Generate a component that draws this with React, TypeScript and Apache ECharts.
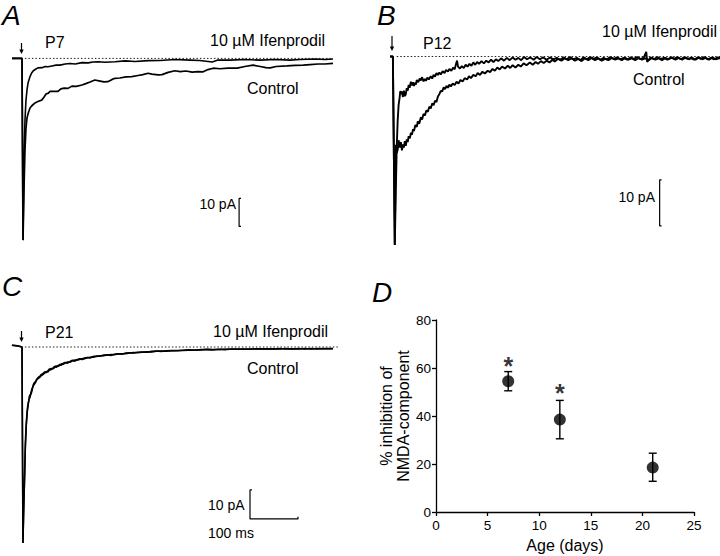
import React, { useEffect, useRef } from "react";
import * as echarts from "echarts";

// ---------- Panel A (P7) : [time ms, current pA] ----------
const aControl: number[][] = [
  [-20, 0], [-1.2, 0], [0.9, 0], [3, -64.9], [5, -47], [7.1, -32.7], [9.2, -24.9], [11.3, -21.3],
  [14, -19.5], [17.6, -17.7], [21, -17], [28, -15.9], [34, -15.4], [42, -14.9], [47, -13.8],
  [51, -12.7], [56, -12.4], [59, -11.8], [68, -11.8], [76, -11.8], [82, -10.9], [89, -10.6],
  [97, -10.7], [105, -9.9], [114, -10], [126, -9.5], [134, -9], [143, -8.4], [153, -7.7],
  [164, -8.1], [172, -8.4], [180, -8.3], [189, -7.5], [195, -7.1], [205, -7], [218, -6.6],
  [230, -6.5], [243, -6.1], [253, -5.8], [264, -5.3], [272, -5.6], [285, -5.9], [293, -5.8],
  [306, -5], [320, -4.4], [331, -4.7], [343, -4.5], [356, -4.9], [368, -4.7], [379, -4.8],
  [389, -4], [400, -3.5], [414, -3.7], [431, -3.5], [450, -3.5], [466, -2.9], [483, -2.4],
  [498, -2.9], [510, -3.3], [519, -3.4], [531, -2.9], [554, -2.7], [571, -2.5], [588, -2.4],
  [602, -2.2], [619, -2], [633, -2], [650, -1.8]
];
const aIfenprodil: number[][] = [
  [-20, 0], [-1.2, 0], [0.9, 0], [3, -64.9], [5, -36.3], [7.1, -22], [9.2, -14.9], [11.3, -11.3],
  [13.4, -8.8], [17.6, -6.5], [21, -5.2], [24.5, -4.4], [30, -3.8], [34, -3.4], [43, -3.3],
  [49, -2.9], [55, -3], [63.5, -2.7], [72, -2.4], [80, -2.4], [91, -2], [101, -1.8], [112, -2],
  [126, -1.5], [139, -1.6], [149, -1.3], [160, -1.2], [174, -1.4], [195, -1.2], [216, -0.9],
  [237, -1.1], [264, -0.8], [289, -0.75], [320, -0.4], [352, -0.6], [372, -0.75], [398, -1.3],
  [410, -0.6], [435, -0.6], [466, -0.4], [498, -0.6], [529, -0.4], [560, -0.6], [581, -0.4],
  [613, -0.2], [633, -0.4], [650, -0.2]
];
const aBaseline: number[][] = [[7, 0], [650, 0]];
const aScaleBar: number[][] = [[458, -50], [454, -50], [454, -60], [458, -60]];

// ---------- Panel B (P12) ----------
const bIfenprodil: number[][] = [
  [-6, 0], [0, 0], [4, -41], [6, -30], [8, -20], [10, -14], [12, -10.5], [14, -9], [15.5, -7.5],
  [17, -8.2], [19, -7.6], [21, -8.8], [23, -7.4], [25, -8.6], [27, -8.2], [29, -6.9], [31, -7.4],
  [33, -6.2], [35, -6.8], [37.6, -5.5], [40, -6.3], [42, -5.6], [44, -6.4], [46, -5.7], [48, -6.1],
  [50, -5.1], [53, -5.6], [56, -4.8], [58.5, -5.2], [61, -4.5], [64, -5.4], [67, -4.9], [69, -5.3],
  [72, -4.6], [75, -5], [79, -4.3], [82, -4.8], [85, -4], [88, -4.4], [91, -3.6], [94, -4],
  [97, -3.5], [100, -3.9], [104, -3.2], [108, -3.6], [111, -2.9], [115, -3.3], [118, -2.7],
  [122, -3.1], [126, -2.4], [129, -2.8], [132, -1.6], [134, -0.9], [136, -2.2], [140, -2.6],
  [144, -2.1], [148, -2.5], [152, -1.8], [156, -2.2], [160, -1.6], [164, -2], [168, -1.3],
  [172, -1.8], [176, -1.2], [180, -1.6], [185, -1], [190, -1.5], [195, -0.9], [200, -1.3],
  [205, -0.7], [210, -1.2], [215, -0.6], [220, -1], [226, -0.4], [232, -0.9], [238, -0.3],
  [244, -0.8], [250, -0.2], [256, -0.7], [262, -0.3], [268, -0.8], [274, -0.1], [280, -0.6],
  [287, -0.2], [294, -0.7], [300, -0.1], [307, -0.6], [314, -0.2], [321, -0.7], [328, -0.2],
  [335, -0.6], [342, -0.3], [349, -0.7], [356, -0.2], [363, -0.6], [370, -0.1], [377, -0.6],
  [384, -0.3], [391, -0.8], [398, -0.2], [405, -0.6], [412, -0.1], [419, -0.5], [426, -0.2],
  [433, -0.7], [440, -0.3], [447, -0.6], [454, -0.1], [461, -0.5], [468, -0.2], [475, -0.6],
  [482, -0.3], [489, -0.7], [496, -0.2], [503, -0.5], [510, -0.1], [517, -0.6], [524, -0.2],
  [529, 1.0], [531, -1.2], [538, -0.2], [545, -0.6], [552, -0.1], [559, -0.5], [566, -0.3],
  [573, -0.7], [580, -0.2], [587, -0.5], [594, -0.1], [601, -0.6], [608, -0.2], [615, -0.5],
  [622, -0.3], [629, -0.7], [636, -0.2], [643, -0.5], [650, -0.1], [657, -0.6], [664, -0.3],
  [671, -0.6], [678, -0.2], [683, -0.4]
];
const bControl: number[][] = [
  [-6, 0], [0, 0], [4, -41], [5, -30], [6.3, -19.2], [8, -21], [10, -20.3], [12, -18.2], [14, -19.8],
  [16.7, -18.6], [19, -20.4], [21, -19.1], [23, -19.8], [25, -18.4], [27, -19.4], [29, -18],
  [31, -18.6], [33, -17.3], [35.5, -17.8], [37.6, -16.6], [40, -17], [42, -15.8], [44, -16.2],
  [47, -14.9], [50, -15.3], [52, -14.1], [55, -14.6], [58.5, -13.2], [61, -13.7], [64, -12.5],
  [67, -12.8], [70, -11.7], [73, -12], [76, -10.9], [79, -11.3], [82, -10.2], [85, -10.6],
  [88, -9.6], [91, -9.9], [94, -8.7], [97, -8.2], [100, -7.5], [103, -7.6], [106, -6.7],
  [109, -7.1], [112, -6.4], [115, -6.8], [118, -6.1], [121, -6.5], [125, -5.9], [129, -6.2],
  [133, -5.5], [137, -5.9], [141, -5.1], [146, -5.4], [150, -4.7], [155, -5], [159, -4.3],
  [163, -4.7], [168, -4], [173, -4.3], [177, -3.6], [182, -4], [187, -3.3], [192, -3.7],
  [198, -3.1], [203, -3.4], [208, -2.7], [213, -3.1], [218, -2.4], [223, -2.8], [228, -2.2],
  [234, -2.6], [240, -2], [245, -2.5], [250, -1.9], [256, -2.4], [262, -1.8], [267, -2.2],
  [273, -1.5], [279, -1.9], [286, -1.3], [292, -1.8], [298, -1.2], [303, -1.6], [309, -1],
  [315, -1.4], [321, -0.9], [327, -1.3], [333, -0.7], [338, -1.1], [345, -0.5], [352, -0.9],
  [359, -0.4], [366, -0.8], [373, -0.4], [380, -0.9], [387, -0.5], [394, -1], [401, -0.4],
  [408, -0.8], [415, -0.3], [422, -0.8], [429, -0.4], [436, -0.9], [443, -0.5], [450, -0.8],
  [457, -0.3], [464, -0.7], [471, -0.4], [478, -0.8], [485, -0.3], [492, -0.7], [499, -0.4],
  [506, -0.8], [513, -0.3], [520, -0.7], [527, -0.4], [534, -0.8], [541, -0.3], [548, -0.7],
  [555, -0.4], [562, -0.8], [569, -0.3], [576, -0.6], [583, -0.2], [590, -0.7], [597, -0.3],
  [604, -0.7], [611, -0.2], [618, -0.6], [625, -0.3], [632, -0.7], [639, -0.2], [646, -0.6],
  [653, -0.3], [660, -0.7], [667, -0.2], [674, -0.6], [683, -0.3]
];
const bBaseline: number[][] = [[8, 0], [683, 0]];
const bScaleBar: number[][] = [[561, -26.8], [557, -26.8], [557, -36.8], [561, -36.8]];

// ---------- Panel C (P21) ----------
const cControl: number[][] = [
  [-21, 0.6], [-10, 0.4], [0, 0], [2, -67.6], [3.5, -55], [5.2, -45], [7, -33], [9, -26], [11, -21.5],
  [13, -19.3], [15, -18], [17, -17.2], [19, -15.5], [21, -14.3], [23.5, -13.4], [26, -12.8],
  [28, -11.9], [30.6, -11.4], [33, -10.6], [35, -10.8], [37.5, -10], [40, -9.5], [42, -9.8],
  [44.4, -9.1], [47, -8.6], [50, -8.9], [54, -8.2], [57, -7.6], [60, -7.9], [65, -7.2], [68, -6.7],
  [71, -7], [75, -6.4], [79, -6], [82, -6.3], [86, -5.6], [90, -5.3], [94, -5.6], [100, -5],
  [105, -4.6], [110, -4.9], [114, -4.4], [120, -4.1], [125, -4.3], [130, -3.8], [136, -3.6],
  [142, -3.8], [148, -3.3], [155, -3.1], [162, -3.2], [170, -2.8], [178, -2.7], [185, -2.9],
  [192, -2.5], [200, -2.3], [208, -2.5], [216, -2.1], [224, -2], [232, -2.1], [240, -1.8],
  [250, -1.7], [260, -1.8], [270, -1.5], [280, -1.4], [290, -1.5], [300, -1.3], [312, -1.2],
  [324, -1.3], [335, -1.1], [347, -1], [360, -1.1], [372, -0.9], [385, -0.9], [398, -1],
  [410, -0.8], [423, -0.9], [436, -0.7], [448, -0.8], [460, -0.7], [473, -0.8], [486, -0.6],
  [498, -0.7], [511, -0.6], [524, -0.7], [537, -0.5], [550, -0.7], [563, -0.6], [576, -0.7],
  [589, -0.5], [602, -0.7], [615, -0.5], [628, -0.6], [640, -0.5], [648, -0.6]
];
const cIfenprodil: number[][] = [
  [-21, 0.6], [-10, 0.4], [0, 0], [2, -67.6], [3.5, -57], [5.2, -47], [7, -35], [9, -27], [11, -22.5],
  [13, -20], [15, -17.2], [17, -16.4], [19, -16.2], [21, -15], [23.5, -13], [26, -12.2], [28, -12.4],
  [30.6, -11], [33, -11], [35, -10.2], [37.5, -10.4], [40, -9.9], [42, -9.2], [44.4, -9.5], [47, -9],
  [50, -8.4], [54, -8.6], [57, -8], [60, -7.4], [65, -7.5], [68, -7.1], [71, -6.5], [75, -6.7],
  [79, -6.3], [82, -5.8], [86, -6], [90, -5.5], [94, -5.2], [100, -5.3], [105, -4.8], [110, -4.5],
  [114, -4.6], [120, -4.3], [125, -4], [130, -4.1], [136, -3.7], [142, -3.5], [148, -3.5],
  [155, -3.3], [162, -3], [170, -3], [178, -2.8], [185, -2.6], [192, -2.7], [200, -2.4],
  [208, -2.3], [216, -2.3], [224, -2.1], [232, -1.9], [240, -2], [250, -1.8], [260, -1.6],
  [270, -1.7], [280, -1.5], [290, -1.4], [300, -1.5], [312, -1.3], [324, -1.2], [335, -1.2],
  [347, -1.1], [360, -1], [372, -1], [385, -0.8], [398, -0.9], [410, -0.9], [423, -0.8],
  [436, -0.8], [448, -0.7], [460, -0.8], [473, -0.7], [486, -0.7], [498, -0.6], [511, -0.7],
  [524, -0.6], [537, -0.7], [550, -0.5], [563, -0.7], [576, -0.5], [589, -0.7], [602, -0.5],
  [615, -0.7], [628, -0.5], [640, -0.6], [648, -0.5]
];
const cBaseline: number[][] = [[6, 0], [658, 0]];
const cScaleBar: number[][] = [[479, -49.3], [475, -49.3], [475, -59.3], [575, -59.3], [575, -58.5]];

// ---------- Panel D ----------
const ages = [7, 12, 21];
const inhibition = [54.5, 38.5, 18.5];
const errHigh = [58.5, 46.5, 24.5];
const errLow = [50.5, 30.5, 12.8];
const starAges = [7, 12];
const starLevels = [63.3, 52];
const xTicksD = [0, 5, 10, 15, 20, 25];
const yTicksD = [0, 20, 40, 60, 80];

const FONT = "Liberation Sans, Arial, Helvetica, sans-serif";
const INK = "#000";

function traceSeries(data: number[][], idx: number, width = 1.5) {
  return {
    type: "line",
    xAxisIndex: idx,
    yAxisIndex: idx,
    data,
    showSymbol: false,
    symbol: "none",
    lineStyle: { color: INK, width },
    silent: true,
  };
}
function dottedSeries(data: number[][], idx: number) {
  return {
    type: "line",
    xAxisIndex: idx,
    yAxisIndex: idx,
    data,
    showSymbol: false,
    symbol: "none",
    lineStyle: { color: "#222", width: 1, type: [1.5, 2] },
    silent: true,
  };
}
function txt(text: string, x: number, y: number, size: number, align = "left", extra: any = {}) {
  return {
    type: "text",
    x,
    y,
    style: {
      text,
      fontSize: size,
      fontFamily: FONT,
      fill: INK,
      align,
      verticalAlign: "middle",
      ...extra,
    },
  };
}
function arrow(x: number, y1: number, y2: number) {
  return [
    { type: "line", shape: { x1: x, y1, x2: x, y2: y2 - 3 }, style: { stroke: INK, lineWidth: 1.2 } },
    { type: "polygon", shape: { points: [[x - 2.2, y2 - 4.5], [x + 2.2, y2 - 4.5], [x, y2]] }, style: { fill: INK } },
  ];
}

export default function App() {
  const ref = useRef<HTMLDivElement>(null);
  useEffect(() => {
    if (!ref.current) return;
    const chart = echarts.init(ref.current, null, { renderer: "svg" });
    const hiddenX = (min: number, max: number, gridIndex: number) => ({
      type: "value", gridIndex, min, max, show: false,
    });
    const hiddenY = (min: number, max: number, gridIndex: number) => ({
      type: "value", gridIndex, min, max, show: false,
    });
    const axisCommon = {
      axisLine: { show: true, lineStyle: { color: INK, width: 1.3 } },
      axisTick: { show: true, length: 4, lineStyle: { color: INK, width: 1.3 } },
      splitLine: { show: false },
      axisLabel: { color: INK, fontSize: 13.5, fontFamily: FONT },
      nameTextStyle: { color: INK, fontSize: 16, fontFamily: FONT },
    };
    const option: any = {
      animation: false,
      backgroundColor: "#fff",
      grid: [
        { left: 12, top: 50, width: 321, height: 204.4 },
        { left: 390, top: 47.3, width: 330, height: 202.4 },
        { left: 10, top: 338.3, width: 330, height: 211.7 },
        { left: 436, top: 320, width: 258, height: 192 },
      ],
      xAxis: [
        hiddenX(-20, 650, 0),
        hiddenX(-6, 683, 1),
        hiddenX(-25, 662.5, 2),
        {
          ...axisCommon,
          type: "value",
          gridIndex: 3,
          min: xTicksD[0],
          max: xTicksD[xTicksD.length - 1],
          interval: 5,
          name: "Age (days)",
          nameLocation: "middle",
          nameGap: 25,
          axisLabel: { ...axisCommon.axisLabel, margin: 6 },
        },
      ],
      yAxis: [
        hiddenY(-70, 3, 0),
        hiddenY(-42, 2, 1),
        hiddenY(-70, 3, 2),
        {
          ...axisCommon,
          type: "value",
          gridIndex: 3,
          min: yTicksD[0],
          max: yTicksD[yTicksD.length - 1],
          interval: 20,
          name: "% inhibition of\nNMDA-component",
          nameLocation: "middle",
          nameGap: 24,
          nameTextStyle: { ...axisCommon.nameTextStyle, lineHeight: 17 },
          axisLabel: { ...axisCommon.axisLabel, margin: 5 },
        },
      ],
      series: [
        traceSeries(aControl, 0, 1.7),
        traceSeries(aIfenprodil, 0, 1.6),
        dottedSeries(aBaseline, 0),
        traceSeries(aScaleBar, 0, 1.2),
        traceSeries(bControl, 1, 1.9),
        traceSeries(bIfenprodil, 1, 1.9),
        dottedSeries(bBaseline, 1),
        traceSeries(bScaleBar, 1, 1.2),
        traceSeries(cControl, 2, 1.6),
        traceSeries(cIfenprodil, 2, 1.5),
        dottedSeries(cBaseline, 2),
        traceSeries(cScaleBar, 2, 1.2),
        {
          type: "custom",
          xAxisIndex: 3,
          yAxisIndex: 3,
          data: ages.map((a, i) => [a, errLow[i], errHigh[i]]),
          renderItem: (params: any, api: any) => {
            const lo = api.coord([api.value(0), api.value(1)]);
            const hi = api.coord([api.value(0), api.value(2)]);
            const w = 4;
            const st = { stroke: INK, lineWidth: 1.4 };
            return {
              type: "group",
              children: [
                { type: "line", shape: { x1: lo[0], y1: lo[1], x2: hi[0], y2: hi[1] }, style: st },
                { type: "line", shape: { x1: hi[0] - w, y1: hi[1], x2: hi[0] + w, y2: hi[1] }, style: st },
                { type: "line", shape: { x1: lo[0] - w, y1: lo[1], x2: lo[0] + w, y2: lo[1] }, style: st },
              ],
            };
          },
          silent: true,
          z: 2,
        },
        {
          type: "scatter",
          xAxisIndex: 3,
          yAxisIndex: 3,
          data: ages.map((a, i) => [a, inhibition[i]]),
          symbol: "circle",
          symbolSize: 12,
          itemStyle: { color: INK },
          silent: true,
          z: 3,
        },
        {
          type: "scatter",
          xAxisIndex: 3,
          yAxisIndex: 3,
          data: starAges.map((a, i) => [a, starLevels[i]]),
          symbol: "circle",
          symbolSize: 2,
          itemStyle: { color: "rgba(0,0,0,0)" },
          label: {
            show: true,
            position: "inside",
            formatter: "*",
            fontSize: 25,
            fontWeight: "bold",
            fontFamily: FONT,
            color: INK,
            offset: [0, 6],
          },
          silent: true,
          z: 4,
        },
      ],
      graphic: [
        // panel letters
        txt("A", 2, 15, 28, "left", { fontStyle: "italic" }),
        txt("B", 377, 15, 28, "left", { fontStyle: "italic" }),
        txt("C", 2, 286, 28, "left", { fontStyle: "italic" }),
        txt("D", 372, 292, 28, "left", { fontStyle: "italic" }),
        // panel A
        txt("10 µM Ifenprodil", 210, 40, 16),
        txt("P7", 45, 42, 16),
        txt("Control", 247, 88, 16),
        txt("10 pA", 236, 204, 14, "right"),
        // panel B
        txt("10 µM Ifenprodil", 602, 31, 16),
        txt("P12", 423, 43, 16),
        txt("Control", 633, 79, 16),
        txt("10 pA", 655, 197, 14, "right"),
        // panel C
        txt("10 µM Ifenprodil", 213, 331, 16),
        txt("P21", 45, 332, 16),
        txt("Control", 247, 368, 16),
        txt("10 pA", 208, 505, 14),
        txt("100 ms", 208, 533, 14),
        // stimulus arrows
        ...arrow(21.5, 43, 54),
        ...arrow(392, 36, 51),
        ...arrow(21.5, 331, 342),
      ],
    };
    chart.setOption(option);
    return () => chart.dispose();
  }, []);
  return (
    <div
      ref={ref}
      style={{ position: "absolute", left: 0, top: 0, width: 720, height: 556 }}
    />
  );
}
